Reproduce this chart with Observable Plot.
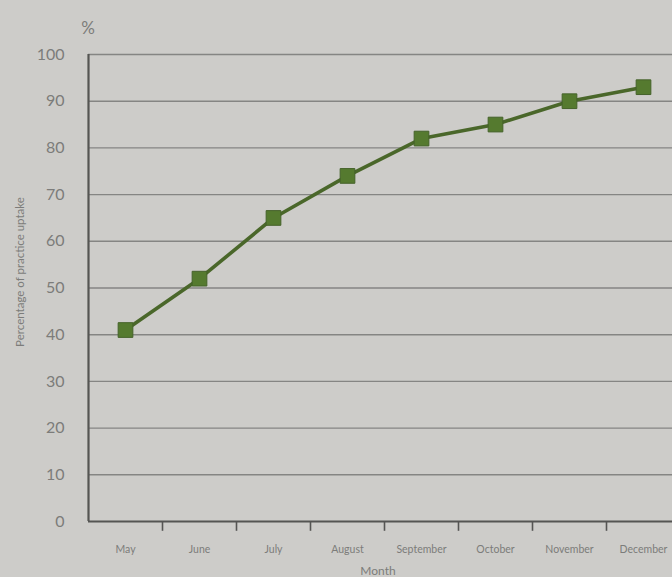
<!DOCTYPE html>
<html>
<head>
<meta charset="utf-8">
<script src="https://cdn.jsdelivr.net/npm/d3@7"></script>
<script src="https://cdn.jsdelivr.net/npm/@observablehq/plot@0.6"></script>
<style>
  html, body { margin: 0; padding: 0; background: #cdccc9; overflow: hidden; }
  #chart svg { display: block; }
</style>
</head>
<body>
<div id="chart"></div>
<script>
// Monthly practice uptake, May to December
const months = ["May", "June", "July", "August", "September", "October", "November", "December"];
const uptake = [41, 52, 65, 74, 82, 85, 90, 93];
const yTicks = [0, 10, 20, 30, 40, 50, 60, 70, 80, 90, 100];

const data = months.map((m, i) => ({month: m, idx: i + 0.5, value: uptake[i]}));
const boundaries = d3.range(1, months.length);

const grey = "#7c7c7a";
const font = "Lato, 'Open Sans', sans-serif";

const chart = Plot.plot({
  width: 672,
  height: 577,
  marginLeft: 88,
  marginRight: -8,
  marginTop: 54,
  marginBottom: 56,
  style: {background: "#cdccc9", fontFamily: font, color: grey, overflow: "visible"},
  x: {domain: [0, months.length], axis: null},
  y: {domain: [0, 100], axis: null},
  marks: [
    // horizontal gridlines
    Plot.ruleY(yTicks.filter(d => d > 0), {x1: 0, x2: months.length, stroke: "#858583", strokeWidth: 1.4}),
    // axes
    Plot.ruleY([0], {x1: 0, x2: months.length, stroke: "#555553", strokeWidth: 2.2}),
    Plot.ruleX([0], {y1: 0, y2: 100, stroke: "#555553", strokeWidth: 2.2}),
    // ticks between months
    Plot.ruleX(boundaries, {y1: 0, y2: -2.1, stroke: "#555553", strokeWidth: 1.6}),
    // y tick labels
    Plot.text(yTicks, {x: 0, y: d => d, text: d => String(d), dx: -24, textAnchor: "end", fontSize: 16, fill: grey}),
    // month labels
    Plot.text(data, {x: "idx", y: 0, text: "month", dy: 28, fontSize: 10.5, fill: grey}),
    // series
    Plot.line(data, {x: "idx", y: "value", stroke: "#4a672a", strokeWidth: 3.6}),
    Plot.dot(data, {x: "idx", y: "value", symbol: "square", r: 8.3, fill: "#557a2f", stroke: "#45622a", strokeWidth: 1})
  ]
});

const svg = d3.select(chart);
// unit marker above the value axis
svg.append("text")
  .attr("x", 88).attr("y", 34)
  .attr("text-anchor", "middle")
  .attr("font-size", 17).attr("fill", grey).attr("font-family", font)
  .text("%");
// y axis title
svg.append("text")
  .attr("transform", "translate(24,272) rotate(-90)")
  .attr("text-anchor", "middle")
  .attr("font-size", 11.5).attr("fill", grey).attr("font-family", font)
  .text("Percentage of practice uptake");
// x axis title
svg.append("text")
  .attr("x", 378).attr("y", 575)
  .attr("text-anchor", "middle")
  .attr("font-size", 12).attr("fill", grey).attr("font-family", font)
  .text("Month");

document.getElementById("chart").appendChild(chart);
</script>
</body>
</html>
